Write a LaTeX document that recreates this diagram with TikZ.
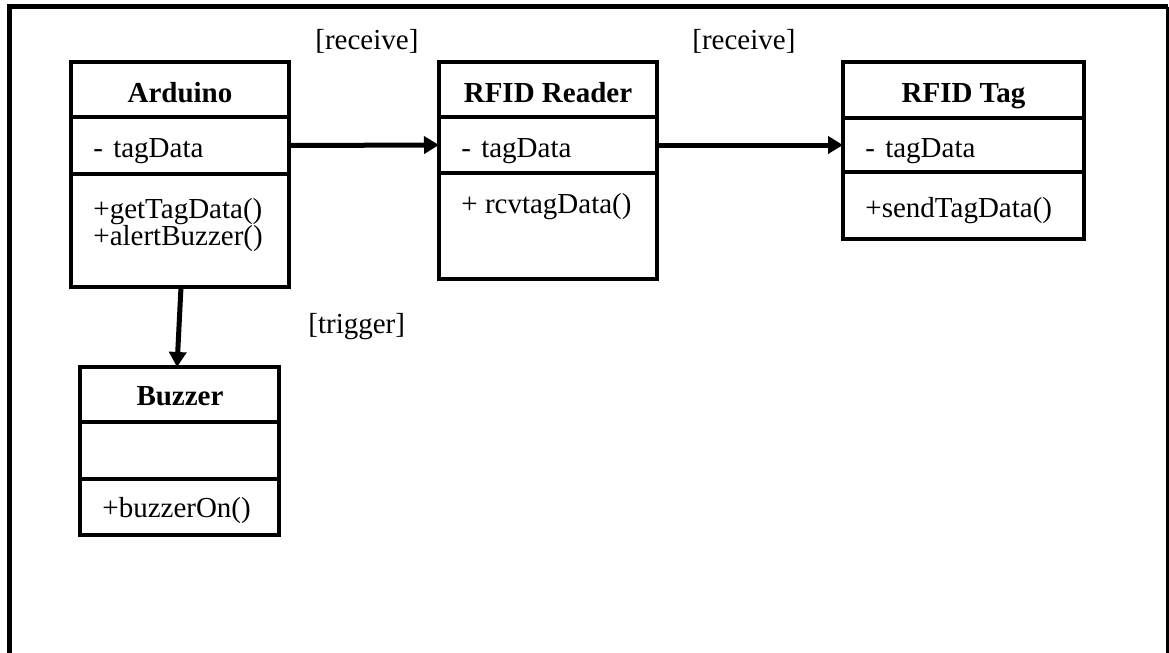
\documentclass[tikz,border=0pt]{standalone}
\usepackage{fontspec}
\setmainfont{Liberation Serif}
\usetikzlibrary{arrows.meta}
\newcommand{\attrdash}{-\hspace{1.5pt} }
\begin{document}
\begin{tikzpicture}[x=0.5pt,y=-0.5pt,
  box/.style={draw, line width=2.2pt, rectangle, inner sep=0pt, outer sep=0pt, anchor=north west},
  txt/.style={inner sep=0pt, font=\fontsize{14.5pt}{17pt}\selectfont},
  lbl/.style={txt, anchor=base west},
  conn/.style={line width=2.5pt, -{Triangle[length=7.5pt,width=8.5pt]}},
  frame/.style={line width=2.5pt}
]
\useasboundingbox (0,0) rectangle (1169,653);
% outer frame
\draw[frame] (9.5,665) -- (9.5,6.5) -- (1168,6.5);
\draw[line width=1.2pt] (1167.5,6.5) -- (1167.5,665);

% Arduino
\node[box, minimum width=109pt, minimum height=27.5pt] (ard-t) at (71,62) {};
\node[box, minimum width=109pt, minimum height=28.5pt] (ard-a) at (ard-t.south west) {};
\node[box, minimum width=109pt, minimum height=56.5pt] (ard-m) at (ard-a.south west) {};
\node[txt, anchor=base] (ard-name) at (180,102) {\bfseries Arduino};
\node[lbl] (ard-attr) at (93,157) {\attrdash tagData};
\node[lbl] (ard-m1) at (93,218) {+getTagData()};
\node[lbl] (ard-m2) at (93,245) {+alertBuzzer()};

% RFID Reader
\node[box, minimum width=109pt, minimum height=27.5pt] (rdr-t) at (439,62) {};
\node[box, minimum width=109pt, minimum height=28pt] (rdr-a) at (rdr-t.south west) {};
\node[box, minimum width=109pt, minimum height=53pt] (rdr-m) at (rdr-a.south west) {};
\node[txt, anchor=base] (rdr-name) at (548,102) {\bfseries RFID Reader};
\node[lbl] (rdr-attr) at (461,157) {\attrdash tagData};
\node[lbl] (rdr-m1) at (461,213) {+ rcvtagData()};

% RFID Tag
\node[box, minimum width=120.5pt, minimum height=28pt] (tag-t) at (843,62) {};
\node[box, minimum width=120.5pt, minimum height=27pt] (tag-a) at (tag-t.south west) {};
\node[box, minimum width=120.5pt, minimum height=33.5pt] (tag-m) at (tag-a.south west) {};
\node[txt, anchor=base] (tag-name) at (963.5,102) {\bfseries RFID Tag};
\node[lbl] (tag-attr) at (865,157) {\attrdash tagData};
\node[lbl] (tag-m1) at (865,217) {+sendTagData()};

% Buzzer
\node[box, minimum width=99.5pt, minimum height=27.5pt] (buz-t) at (80,367) {};
\node[box, minimum width=99.5pt, minimum height=28.5pt] (buz-a) at (buz-t.south west) {};
\node[box, minimum width=99.5pt, minimum height=28pt] (buz-m) at (buz-a.south west) {};
\node[txt, anchor=base] (buz-name) at (180,405) {\bfseries Buzzer};
\node[lbl] (buz-m1) at (102,517) {+buzzerOn()};

% labels
\node[lbl] (l1) at (315,49) {[receive]};
\node[lbl] (l2) at (692,49) {[receive]};
\node[lbl] (l3) at (308,333) {[trigger]};

% connectors
\draw[conn] (ard-a.east) -- (rdr-a.west);
\draw[conn] (rdr-a.east) -- (tag-a.west);
\draw[conn] ([xshift=0.5pt]ard-m.south) -- ([xshift=-1.25pt]buz-t.north);
\end{tikzpicture}
\end{document}
